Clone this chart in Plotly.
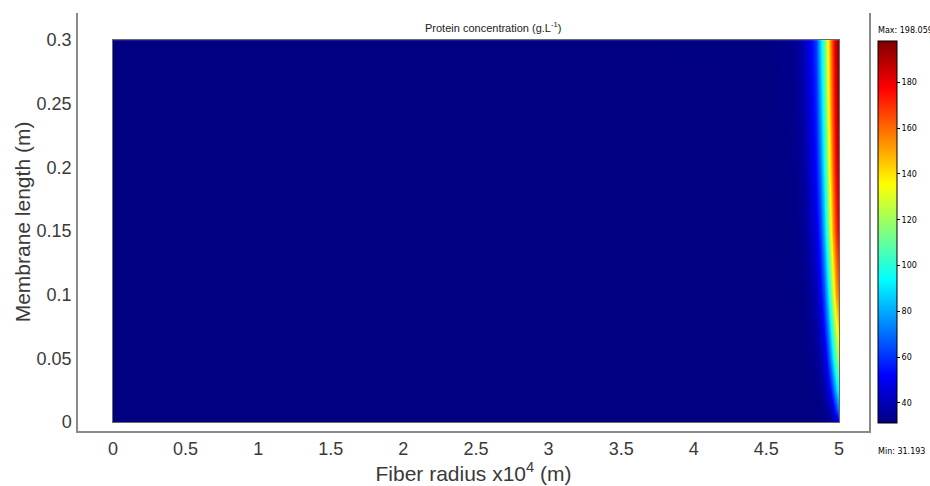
import plotly.graph_objects as go

# ---- data ----
radius = [0, 4.5, 4.7, 4.75, 4.8, 4.84, 4.87, 4.9, 4.92, 4.94, 4.96, 4.98, 4.99, 5.0]   # x1e4 m
length = [0, 0.01, 0.025, 0.05, 0.1, 0.15, 0.2, 0.25, 0.3]                              # m
conc_z000 = [31.2, 31.2, 31.2, 31.2, 31.2, 31.2, 31.3, 31.5, 32, 33, 36, 42, 48, 55]
conc_z001 = [31.2, 31.2, 31.2, 31.2, 31.3, 31.6, 32.2, 33.5, 36, 40, 48, 62, 72, 80]
conc_z0025 = [31.2, 31.2, 31.2, 31.2, 31.8, 32.5, 34, 37, 42, 52, 66, 84, 94, 102]
conc_z005 = [31.2, 31.2, 31.2, 31.5, 32.5, 34, 38, 44, 56, 72, 92, 112, 122, 130]
conc_z010 = [31.2, 31.2, 31.5, 32.5, 35, 40, 48, 64, 82, 104, 128, 150, 158, 162]
conc_z015 = [31.2, 31.2, 32, 34, 40, 48, 60, 82, 104, 128, 152, 170, 178, 182]
conc_z020 = [31.2, 31.3, 32.5, 36, 44, 54, 70, 94, 116, 140, 162, 180, 187, 190]
conc_z025 = [31.2, 31.4, 33, 38, 47, 58, 78, 102, 125, 148, 168, 185, 192, 195]
conc_z030 = [31.2, 31.5, 34, 40, 50, 62, 85, 108, 130, 152, 172, 188, 195, 198]
c_min = 31.193
c_max = 198.059
cbar_ticks = [40, 60, 80, 100, 120, 140, 160, 180]
x_ticks = [0, 0.5, 1, 1.5, 2, 2.5, 3, 3.5, 4, 4.5, 5]
y_ticks = [0, 0.05, 0.1, 0.15, 0.2, 0.25, 0.3]

z_grid = [conc_z000, conc_z001, conc_z0025, conc_z005, conc_z010,
          conc_z015, conc_z020, conc_z025, conc_z030]

jet = [[0, "rgb(0,0,128)"], [0.125, "rgb(0,0,255)"], [0.375, "rgb(0,255,255)"],
       [0.625, "rgb(255,255,0)"], [0.875, "rgb(255,0,0)"], [1, "rgb(128,0,0)"]]

# ---- layout geometry ----
W, H = 930, 486
ml, mr, mt, mb = 78, 61, 13, 55
xr = [-0.241, 5.207]
yr = [-0.00707, 0.3213]
pw, ph = W - ml - mr, H - mt - mb

def xfrac(v):
    return (v - xr[0]) / (xr[1] - xr[0])

def yfrac(v):
    return (v - yr[0]) / (yr[1] - yr[0])

fig = go.Figure()
fig.add_trace(go.Scatter(x=[None], y=[None], xaxis="x", yaxis="y", showlegend=False,
                         hoverinfo="skip"))
fig.add_trace(go.Heatmap(
    x=radius, y=length, z=z_grid, xaxis="x2", yaxis="y2",
    zsmooth="best", colorscale=jet, zmin=c_min, zmax=c_max,
    colorbar=dict(
        thickness=19, thicknessmode="pixels",
        len=382, lenmode="pixels",
        x=(878 - ml) / pw, xanchor="left", xpad=0,
        y=(mt + ph - 232) / ph, yanchor="middle", ypad=0,
        outlinewidth=1, outlinecolor="black",
        tickvals=cbar_ticks, ticks="outside", ticklen=3, tickcolor="black",
        tickfont=dict(family="DejaVu Sans", size=8, color="black"),
    ),
))

axis_font = dict(family="Liberation Sans, Arial", size=18, color="#3a3a3a")
title_font = dict(family="Liberation Sans, Arial", size=21, color="#3a3a3a")

fig.update_layout(
    width=W, height=H,
    margin=dict(l=ml, r=mr, t=mt, b=mb, autoexpand=False),
    paper_bgcolor="white", plot_bgcolor="white",
    xaxis=dict(range=xr, tickvals=x_ticks, ticktext=[f"{v:g}" for v in x_ticks],
               showgrid=False, zeroline=False, showline=True, linecolor="#8a8a8a",
               linewidth=1.5, ticks="", tickfont=axis_font, ticklabelstandoff=1,
               automargin=False,
               title=dict(text="Fiber radius x10<sup>4</sup> (m)", font=title_font,
                          standoff=3)),
    yaxis=dict(range=yr, tickvals=y_ticks, ticktext=[f"{v:g}" for v in y_ticks],
               showgrid=False, zeroline=False, showline=True, mirror=True,
               linecolor="#8a8a8a", linewidth=1.5, ticks="", tickfont=axis_font,
               ticklabelstandoff=1, automargin=False,
               title=dict(text="Membrane length (m)", font=title_font, standoff=0)),
    xaxis2=dict(domain=[xfrac(0), xfrac(5)], range=[0, 5], anchor="y2",
                showgrid=False, zeroline=False, showticklabels=False, ticks="",
                showline=True, mirror=True, linecolor="#6a6a6a", linewidth=1,
                automargin=False),
    yaxis2=dict(domain=[yfrac(0), yfrac(0.3)], range=[0, 0.3], anchor="x2",
                showgrid=False, zeroline=False, showticklabels=False, ticks="",
                showline=True, mirror=True, linecolor="#6a6a6a", linewidth=1,
                automargin=False),
    annotations=[
        dict(text="Protein concentration (g.L<sup>-1</sup>)", xref="paper", yref="paper",
             x=(493 - ml) / pw, y=(mt + ph - 27) / ph, xanchor="center", yanchor="middle",
             showarrow=False, font=dict(family="Liberation Sans, Arial", size=11, color="#222")),
        dict(text="Max: 198.059", xref="paper", yref="paper",
             x=(876 - ml) / pw, y=(mt + ph - 30) / ph, xanchor="left", yanchor="middle",
             showarrow=False, font=dict(family="DejaVu Sans", size=8, color="black")),
        dict(text="Min: 31.193", xref="paper", yref="paper",
             x=(876 - ml) / pw, y=(mt + ph - 451) / ph, xanchor="left", yanchor="middle",
             showarrow=False, font=dict(family="DejaVu Sans", size=8, color="black")),
    ],
)

fig.write_html("out.html")
